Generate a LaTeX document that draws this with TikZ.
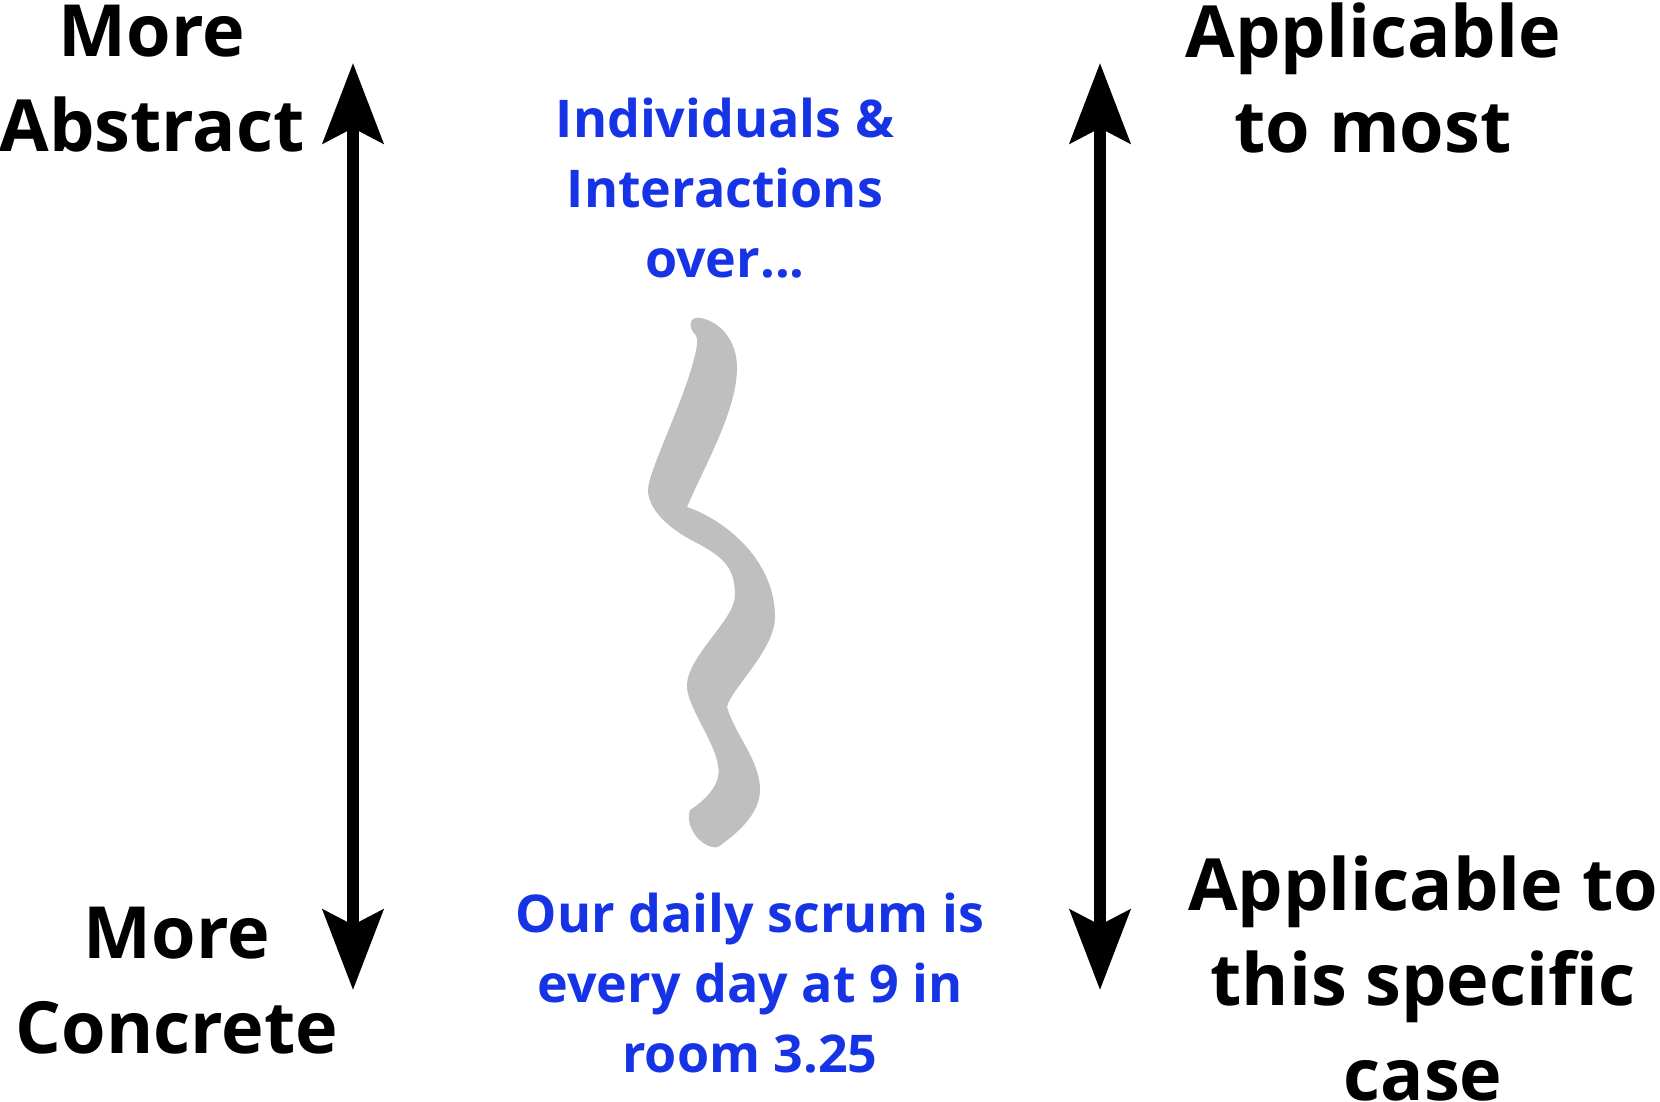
\documentclass[tikz,border=0pt]{standalone}
\usepackage{fontspec}
\setmainfont{Open Sans}
\usetikzlibrary{arrows.meta}
\definecolor{agile_blue}{RGB}{22, 52, 230}
\definecolor{squig_grey}{RGB}{191, 191, 191}
\tikzstyle{bt}=[font=\fontsize{36}{47.5}\selectfont\bfseries,align=center,
  anchor=base,inner sep=0pt]
\tikzstyle{lt}=[font=\fontsize{26}{35}\selectfont\bfseries,align=center,
  anchor=base,inner sep=0pt,text=agile_blue]
\tikzstyle{scl}=[line width=6pt,
  {Stealth[length=40pt,width=30pt,inset=7.5pt]}-{Stealth[length=40pt,width=30pt,inset=7.5pt]}]
\tikzstyle{none}=[]

\begin{document}
\begin{tikzpicture}[x=0.5pt,y=-0.5pt]
            \useasboundingbox (0, 0) rectangle (1660, 1102);
            \node [style=bt] (0) at (152, 152) {More\\Abstract};
            \node [style=bt] (1) at (177, 1053) {More\\Concrete};
            \node [style=bt] (2) at (1373, 153) {Applicable\\to most};
            \node [style=bt] (3) at (1423, 1100) {Applicable to\\this specific\\case};
            \node [style=lt] (4) at (725, 277) {Individuals \&\\Interactions\\over...};
            \node [style=lt] (5) at (750, 1072) {Our daily scrum is\\every day at 9 in\\room 3.25};
            \coordinate (6) at (353, 63);
            \coordinate (7) at (353, 990);
            \coordinate (8) at (1100, 63);
            \coordinate (9) at (1100, 990);
            \draw [style=scl] (6) to (7);
            \draw [style=scl] (8) to (9);
            \fill [squig_grey] (693, 332)
                .. controls (688, 324) and (691, 316) .. (701, 318)
                .. controls (720, 322) and (737, 340) .. (737, 368)
                .. controls (737, 410) and (705, 465) .. (687, 507)
                .. controls (725, 520) and (775, 560) .. (775, 617)
                .. controls (775, 650) and (730, 690) .. (727, 707)
                .. controls (735, 735) and (760, 760) .. (760, 790)
                .. controls (760, 815) and (735, 835) .. (718, 847)
                .. controls (705, 850) and (684, 830) .. (690, 810)
                .. controls (705, 800) and (722, 785) .. (718, 765)
                .. controls (714, 740) and (686, 705) .. (687, 685)
                .. controls (688, 655) and (735, 620) .. (735, 595)
                .. controls (735, 565) and (720, 555) .. (693, 541)
                .. controls (670, 529) and (648, 510) .. (648, 490)
                .. controls (648, 470) and (690, 390) .. (697, 345)
                .. controls (698, 338) and (696, 335) .. (693, 332) -- cycle;
\end{tikzpicture}
\end{document}
